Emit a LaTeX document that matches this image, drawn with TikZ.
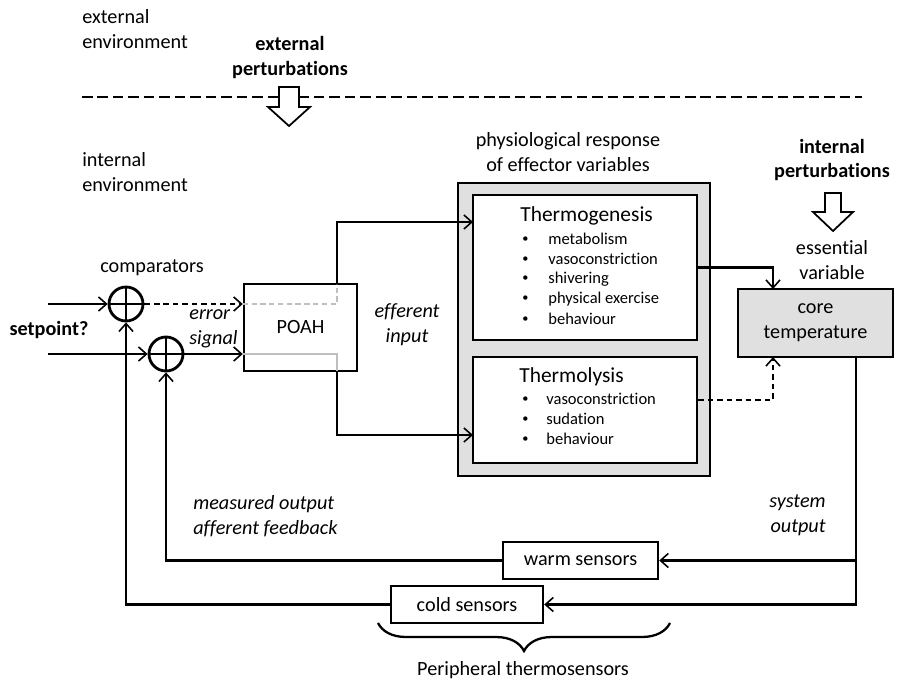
\documentclass[tikz,border=0pt]{standalone}
\usepackage{fontspec}
\setmainfont{Carlito}[Ligatures={NoCommon,NoContextual},RawFeature={-liga;-clig;-dlig}]
\usetikzlibrary{arrows.meta,decorations.pathreplacing}

\newcommand{\marca}{\raisebox{0.12em}{\fontsize{7}{7}\selectfont\textbullet}}
\tikzset{
  caixa/.style={draw, line width=1.4pt, inner sep=0pt, align=center},
  linha/.style={line width=1.2pt},
  seta/.style={linha, -{Straight Barb[length=4.5pt,width=8pt,line width=0.9pt]}},
  tracejado/.style={dash pattern=on 3.2pt off 2.2pt},
  cinza/.style={line width=1pt, black!25},
  comparador/.style={circle, draw, line width=1.6pt, minimum size=0.68cm, inner sep=0pt,
    path picture={\draw[line width=1.6pt] (path picture bounding box.north) -- (path picture bounding box.south)
      (path picture bounding box.west) -- (path picture bounding box.east);}},
  rotulo/.style={inner sep=0pt, align=center},
  titulo/.style={inner sep=0pt, anchor=west, font=\fontsize{12.2}{14}\selectfont},
  item/.style={inner sep=0pt, anchor=west, font=\fontsize{9.4}{11}\selectfont},
  bloco/.style={draw, line width=1pt, fill=white, line join=miter},
}

\begin{document}
\begin{tikzpicture}[x=0.02cm, y=-0.02cm, every node/.style={font=\fontsize{11.5}{14.2}\selectfont}] %Desenho em pixels
  \useasboundingbox (0,0) rectangle (898,682);
    %Ambientes
  \node[rotulo, anchor=west, align=left] (ext) at (82,29.5) {external\\environment};
  \node[rotulo, font=\fontsize{11.5}{14.2}\selectfont\bfseries] (pertext) at (290,57.5) {external\\perturbations};
  \draw[line width=1.5pt, dash pattern=on 6pt off 2.8pt] (82,97) -- (862,97); %Fronteira
  \draw[bloco] (279,87) -- (299,87) -- (299,107) -- (310,107) -- (289,126) -- (268,107) -- (279,107) -- cycle;
  \node[rotulo, anchor=west, align=left] (int) at (82,172.5) {internal\\environment};
    %Caixas
  \node[rotulo] (resposta) at (568,152) {physiological response\\of effector variables};
  \node[caixa, fill=black!12, minimum width=5.04cm, minimum height=5.86cm] (efetores) at (584,329.5) {};
  \node[caixa, fill=white, minimum width=4.48cm, minimum height=2.9cm] (termogenese) at (585,267.5) {};
  \node[caixa, fill=white, minimum width=4.48cm, minimum height=2.12cm] (termolise) at (585,410) {};
  \node[titulo] (titgen) at (520,216) {Thermogenesis};
  \foreach \t [count=\i] in {metabolism, vasoconstriction, shivering, physical exercise, behaviour}
    \node[item] (gen\i) at (522,219+20*\i) {\makebox[0.52cm][l]{\marca}\t};
  \node[titulo] (titlis) at (519,377) {Thermolysis};
  \foreach \t [count=\i] in {vasoconstriction, sudation, behaviour}
    \node[item] (lis\i) at (522,379+20*\i) {\makebox[0.48cm][l]{\marca}\t};
  \node[caixa, minimum width=2.26cm, minimum height=1.74cm] (poah) at (300.5,327.5) {POAH};
  \node[caixa, fill=black!12, minimum width=3.1cm, minimum height=1.36cm] (nucleo) at (815.5,323) {core\\temperature};
  \node[caixa, minimum width=3.1cm, minimum height=0.74cm] (quente) at (580.5,560.5) {warm sensors};
  \node[caixa, minimum width=3.04cm, minimum height=0.74cm] (frio) at (467,604.5) {cold sensors};
    %Comparadores
  \node[rotulo] (comparadores) at (152,268) {comparators};
  \node[comparador] (c1) at (126,304) {};
  \node[comparador] (c2) at (166,354) {};
  \node[rotulo, font=\fontsize{11.5}{14.2}\selectfont\bfseries] (setpoint) at (49,330) {setpoint?};
  \coordinate (e1) at (48,304);
  \coordinate (e2) at (48,354);
  \draw[seta] (e1) -- (c1);
  \draw[seta] (e2) -- (c2);
  \draw[seta, tracejado] (c1) -- (poah.west |- c1);
  \draw[seta] (c2) -- (poah.west |- c2);
  \node[rotulo, anchor=west, align=left, font=\fontsize{11.5}{14.2}\selectfont\itshape] (erro) at (189,328.5) {error\\signal};
    %Dentro do POAH
  \coordinate (s1) at (337,284);
  \coordinate (s2) at (337,371);
  \draw[cinza, dash pattern=on 3pt off 2pt] (poah.west |- c1) -| (s1);
  \draw[cinza] (poah.west |- c2) -| (s2);
    %Entrada eferente
  \coordinate (g1) at (473,222);
  \coordinate (g2) at (473,435);
  \draw[seta] (s1) |- (g1);
  \draw[seta] (s2) |- (g2);
  \node[rotulo, font=\fontsize{11.5}{14.2}\selectfont\itshape] (eferente) at (407,325) {efferent\\input};
    %Variavel essencial
  \node[rotulo, font=\fontsize{11.5}{14.2}\selectfont\bfseries] (pertint) at (832,160) {internal\\perturbations};
  \draw[bloco] (825,193) -- (841,193) -- (841,212) -- (853,212) -- (833,231) -- (813,212) -- (825,212) -- cycle;
  \node[rotulo] (essencial) at (832,260.5) {essential\\variable};
  \coordinate (n1) at (773,289);
  \coordinate (n2) at (773,357);
  \draw[seta] (termogenese.east) -| (n1);
  \draw[seta, tracejado] ([yshift=0.2cm]termolise.east) -| (n2);
    %Realimentacao
  \coordinate (o1) at (856,357);
  \draw[seta] (o1) |- (frio.east);
  \draw[seta] (o1 |- quente) -- (quente.east);
  \draw[seta] (quente.west) -| (c2.south);
  \draw[seta] (frio.west) -| (c1.south);
  \node[rotulo, anchor=west, align=left, font=\fontsize{11.5}{14.2}\selectfont\itshape] (medida) at (193,516.5) {measured output\\afferent feedback};
  \node[rotulo, anchor=east, align=right, font=\fontsize{11.5}{14.2}\selectfont\itshape] (saida) at (826,515) {system\\output};
    %Chave
  \draw[line width=1.3pt, decorate, decoration={brace, mirror, amplitude=0.56cm, aspect=0.5}] (378,623) -- (670,623);
  \node[rotulo] (perifericos) at (523,670) {Peripheral thermosensors};
\end{tikzpicture}
\end{document}
